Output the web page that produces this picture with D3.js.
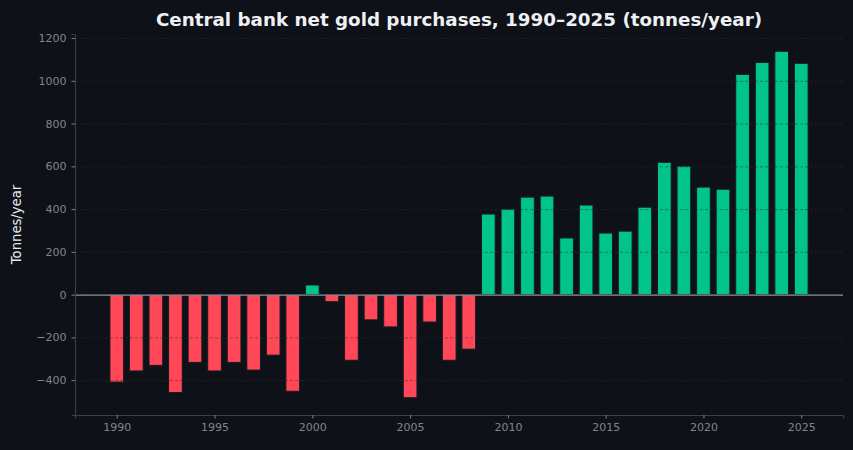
<!DOCTYPE html>
<html>
<head>
<meta charset="utf-8">
<script src="https://cdn.jsdelivr.net/npm/d3@7"></script>
<style>
  html, body { margin: 0; padding: 0; background: #0e1117; }
  svg { display: block; font-family: "DejaVu Sans", sans-serif; }
</style>
</head>
<body>
<div id="chart"></div>
<script>
// data
const years = d3.range(1990, 2026);
const purchases = [
  -409, -357, -331, -458, -317, -357, -317, -353, -283, -452,
   45,  -33, -307, -118, -151, -482, -128, -307, -255,
  377, 400, 456, 461, 265, 419, 288, 297, 409, 619, 601,
  503, 493, 1030, 1086, 1138, 1082
];
const yTicks = [-400, -200, 0, 200, 400, 600, 800, 1000, 1200];
const xTicks = [1990, 1995, 2000, 2005, 2010, 2015, 2020, 2025];

const W = 853, H = 450;
const margin = {top: 34, right: 10, bottom: 35, left: 75};
const width = W - margin.left - margin.right,
      height = H - margin.top - margin.bottom;

const svg = d3.select("#chart").append("svg")
    .attr("width", W)
    .attr("height", H);

svg.append("rect").attr("width", W).attr("height", H).attr("fill", "#0e1117");

const g = svg.append("g")
    .attr("transform", `translate(${margin.left}, ${margin.top})`);

const data = years.map((y, i) => ({year: y, value: purchases[i]}));

// x is continuous in years, bars 0.7 year wide, 5% padding like matplotlib
const barW = 0.7;
const x0 = d3.min(years) - barW / 2, x1 = d3.max(years) + barW / 2;
const xPad = (x1 - x0) * 0.05;
const x = d3.scaleLinear().domain([x0 - xPad, x1 + xPad]).range([0, width]);

const vMin = d3.min(purchases), vMax = d3.max(purchases);
const yPad = (vMax - vMin) * 0.05;
const y = d3.scaleLinear().domain([vMin - yPad, vMax + yPad]).range([height, 0]);

// bars
g.selectAll("rect.bar")
  .data(data)
  .join("rect")
    .attr("class", "bar")
    .attr("x", d => x(d.year - barW / 2))
    .attr("width", d => x(d.year + barW / 2) - x(d.year - barW / 2))
    .attr("y", d => y(Math.max(0, d.value)))
    .attr("height", d => Math.abs(y(d.value) - y(0)))
    .attr("fill", d => d.value >= 0 ? "#00c48c" : "#ff4757")
    .attr("stroke", "#161b22")
    .attr("stroke-width", 1);

// dashed grid over the bars
g.append("g")
  .selectAll("line")
  .data(yTicks)
  .join("line")
    .attr("x1", 0).attr("x2", width)
    .attr("y1", d => y(d) + 0.5).attr("y2", d => y(d) + 0.5)
    .attr("stroke", "#2a2f3a")
    .attr("stroke-opacity", 0.6)
    .attr("stroke-dasharray", "3,2")
    .attr("stroke-width", 0.8);

// zero line
g.append("line")
  .attr("x1", 0).attr("x2", width)
  .attr("y1", y(0) + 0.5).attr("y2", y(0) + 0.5)
  .attr("stroke", "#8b9099")
  .attr("stroke-width", 1.2);

// axes
const xAxis = g.append("g")
    .attr("transform", `translate(0, ${height})`)
    .call(d3.axisBottom(x).tickValues(xTicks).tickFormat(d3.format("d")).tickSizeOuter(0).tickSize(3.5).tickPadding(5));

const yAxis = g.append("g")
    .call(d3.axisLeft(y).tickValues(yTicks).tickFormat(d3.format("d")).tickSizeOuter(0).tickSize(3.5).tickPadding(5));

[xAxis, yAxis].forEach(a => {
  a.select(".domain").attr("stroke", "#3a3f4a");
  a.selectAll(".tick line").attr("stroke", "#7a808a");
  a.selectAll(".tick text")
    .attr("fill", "#7f8590")
    .style("font-size", "11px")
    .style("font-family", "DejaVu Sans, sans-serif");
});

// title
svg.append("text")
  .attr("x", margin.left + width / 2)
  .attr("y", 26)
  .attr("text-anchor", "middle")
  .style("font-size", "18.3px")
  .style("font-weight", "bold")
  .attr("fill", "#eef0f4")
  .text("Central bank net gold purchases, 1990–2025 (tonnes/year)");

// y label
svg.append("text")
  .attr("transform", `translate(21, ${margin.top + height / 2}) rotate(-90)`)
  .attr("text-anchor", "middle")
  .style("font-size", "13.2px")
  .attr("fill", "#e6e8ec")
  .text("Tonnes/year");
</script>
</body>
</html>
